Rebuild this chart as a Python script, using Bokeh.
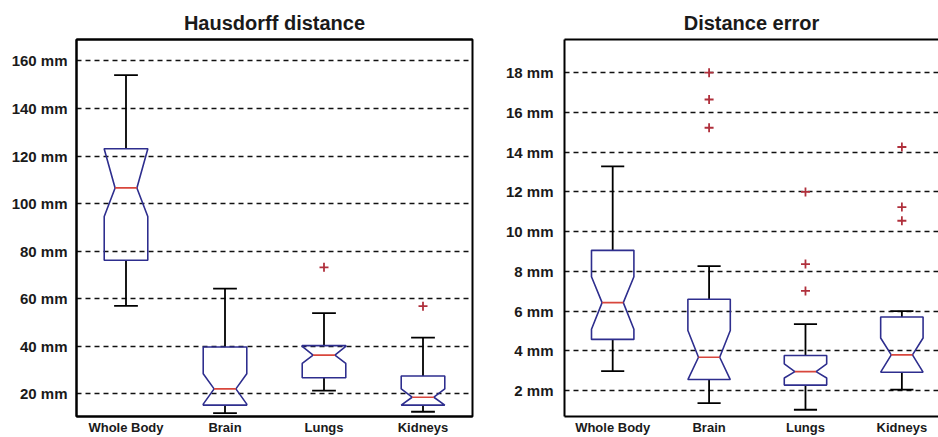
from bokeh.plotting import figure
from bokeh.layouts import row
from bokeh.models import FixedTicker, LinearAxis, Range1d
from bokeh.embed import file_html
from bokeh.resources import INLINE

categories = ["Whole Body", "Brain", "Lungs", "Kidneys"]

# Hausdorff distance (mm)
hd_lower_whisker = [57.0, 11.9, 21.4, 12.5]
hd_q1 = [76.2, 15.3, 26.8, 15.3]
hd_notch_lo = [94.6, 15.7, 32.8, 15.3]
hd_median = [106.6, 22.1, 36.3, 18.6]
hd_notch_hi = [123.0, 28.5, 40.0, 22.1]
hd_q3 = [123.1, 39.7, 40.3, 27.5]
hd_upper_whisker = [154.0, 64.3, 54.0, 43.7]
hd_outlier_cat = [3, 4]
hd_outlier_val = [73.2, 56.9]
hd_ticks = [20, 40, 60, 80, 100, 120, 140, 160]

# Distance error (mm)
de_lower_whisker = [2.98, 1.37, 1.04, 2.05]
de_q1 = [4.58, 2.56, 2.28, 2.93]
de_notch_lo = [5.09, 2.56, 2.64, 2.93]
de_median = [6.43, 3.68, 2.96, 3.80]
de_notch_hi = [7.73, 5.03, 3.35, 4.65]
de_q3 = [9.06, 6.60, 3.77, 5.71]
de_upper_whisker = [13.29, 8.27, 5.35, 6.00]
de_outlier_cat = [2, 2, 2, 3, 3, 3, 4, 4, 4]
de_outlier_val = [18.0, 16.65, 15.23, 12.0, 8.37, 7.02, 14.26, 11.24, 10.55]
de_ticks = [2, 4, 6, 8, 10, 12, 14, 16, 18]

BOX = "#2e2e8e"
MED = "#d8463c"
OUT = "#b0303c"
FONT = "Liberation Sans"


def make_plot(title, width, border_left, border_right, yr, xr_end, lw, q1, nlo, med, nhi,
              q3, uw, oc, ov, ticks, full_outline, title_offset, ystandoff):
    p = figure(width=width, height=437, output_backend="svg", toolbar_location=None,
               x_range=Range1d(0.5, xr_end), y_range=Range1d(*yr),
               min_border_left=border_left, min_border_right=border_right,
               min_border_top=39, min_border_bottom=0)
    p.title.text = title
    p.title.text_font = FONT
    p.title.text_font_size = "20px"
    p.title.text_font_style = "bold"
    p.title.align = "center"
    p.title.offset = title_offset
    p.title.standoff = 12
    p.title.text_color = "#1a1a1a"
    p.background_fill_color = "white"
    p.border_fill_color = "white"

    p.xgrid.grid_line_color = None
    p.ygrid.ticker = FixedTicker(ticks=ticks)
    p.ygrid.grid_line_color = "#111111"
    p.ygrid.grid_line_width = 1.6
    p.ygrid.grid_line_dash = "5 4"

    xa = p.xaxis[0]
    xa.ticker = FixedTicker(ticks=[1, 2, 3, 4])
    xa.major_label_overrides = {i + 1: c for i, c in enumerate(categories)}
    xa.major_tick_line_color = None
    xa.minor_tick_line_color = None
    xa.major_tick_in = 0
    xa.major_tick_out = 0
    xa.minor_tick_in = 0
    xa.minor_tick_out = 0
    xa.major_label_standoff = 3
    xa.axis_line_width = 2
    xa.major_label_text_font = FONT
    xa.major_label_text_font_style = "bold"
    xa.major_label_text_font_size = "13px"
    xa.major_label_text_color = "#1a1a1a"

    ya = p.yaxis[0]
    ya.ticker = FixedTicker(ticks=ticks)
    ya.major_label_overrides = {t: f"{t} mm" for t in ticks}
    ya.major_tick_line_color = None
    ya.minor_tick_line_color = None
    ya.major_tick_in = 0
    ya.major_tick_out = 0
    ya.minor_tick_in = 0
    ya.minor_tick_out = 0
    ya.major_label_standoff = ystandoff
    ya.axis_line_width = 2
    ya.major_label_text_font = FONT
    ya.major_label_text_font_style = "bold"
    ya.major_label_text_font_size = "15px"
    ya.major_label_text_color = "#1a1a1a"

    # top border line
    top = LinearAxis(ticker=FixedTicker(ticks=[]), major_label_text_font_size="0px",
                     major_tick_line_color=None, minor_tick_line_color=None,
                     major_tick_in=0, major_tick_out=0, minor_tick_in=0, minor_tick_out=0,
                     axis_line_width=2, axis_line_color="black", major_label_standoff=0)
    p.add_layout(top, "above")
    if full_outline:
        p.outline_line_color = "black"
        p.outline_line_width = 2
    else:
        p.outline_line_color = None

    hw = 0.22
    nw = 0.11
    cw = 0.12
    xs, ys = [], []
    for i in range(4):
        x = i + 1
        xs.append([x - hw, x - hw, x - nw, x - hw, x - hw, x + hw, x + hw, x + nw, x + hw, x + hw])
        ys.append([q1[i], nlo[i], med[i], nhi[i], q3[i], q3[i], nhi[i], med[i], nlo[i], q1[i]])
    pos = [1, 2, 3, 4]
    # whiskers
    p.segment(x0=pos, y0=q3, x1=pos, y1=uw, line_color="black", line_width=1.8)
    p.segment(x0=pos, y0=q1, x1=pos, y1=lw, line_color="black", line_width=1.8)
    p.segment(x0=[x - cw for x in pos], y0=uw, x1=[x + cw for x in pos], y1=uw,
              line_color="black", line_width=1.8)
    p.segment(x0=[x - cw for x in pos], y0=lw, x1=[x + cw for x in pos], y1=lw,
              line_color="black", line_width=1.8)
    # boxes
    p.patches(xs=xs, ys=ys, fill_color=None, line_color=BOX, line_width=1.6)
    # medians
    p.segment(x0=[x - nw for x in pos], y0=med, x1=[x + nw for x in pos], y1=med,
              line_color=MED, line_width=1.6)
    # outliers
    p.scatter(x=oc, y=ov, marker="cross", size=9, line_color=OUT, line_width=1.8)
    return p


p1 = make_plot("Hausdorff distance", 480, 76, 8, (10.5, 169.0), 4.5,
               hd_lower_whisker, hd_q1, hd_notch_lo, hd_median, hd_notch_hi, hd_q3,
               hd_upper_whisker, hd_outlier_cat, hd_outlier_val, hd_ticks, True, 0, 9)
p2 = make_plot("Distance error", 458, 84, 0, (0.70, 19.67), 4.38,
               de_lower_whisker, de_q1, de_notch_lo, de_median, de_notch_hi, de_q3,
               de_upper_whisker, de_outlier_cat, de_outlier_val, de_ticks, False, 6, 11)

layout = row(p1, p2)
open("out.html", "w").write(file_html(layout, INLINE))
